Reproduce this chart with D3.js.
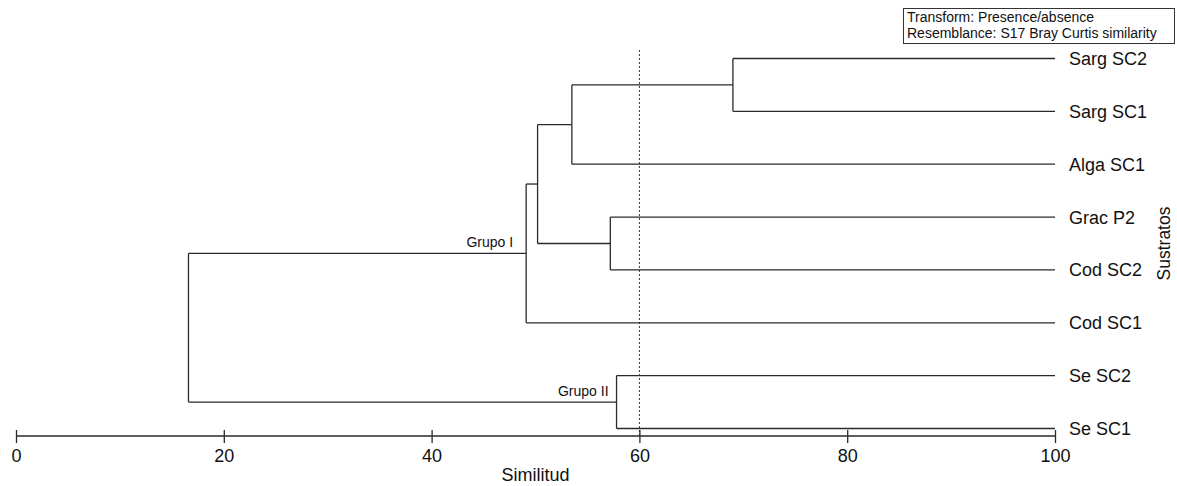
<!DOCTYPE html>
<html>
<head>
<meta charset="utf-8">
<script src="https://cdn.jsdelivr.net/npm/d3@7"></script>
<style>
  html, body { margin: 0; padding: 0; background: #fff; }
  svg { display: block; }
  text { font-family: "Liberation Sans", Arial, sans-serif; fill: #111; }
</style>
</head>
<body>
<svg id="chart" width="1177" height="486"></svg>
<script>
// ---- Data ----
const leaves = ["Sarg SC2", "Sarg SC1", "Alga SC1", "Grac P2", "Cod SC2", "Cod SC1", "Se SC2", "Se SC1"];
const mergeIds        = ["n1", "n2", "n3", "n4", "n5", "n6", "n7"];
const mergeLeft       = ["Sarg SC2", "n1", "Grac P2", "n2", "n4", "Se SC2", "n5"];
const mergeRight      = ["Sarg SC1", "Alga SC1", "Cod SC2", "n3", "Cod SC1", "Se SC1", "n6"];
const mergeSimilarity = [69.0, 53.5, 57.2, 50.2, 49.1, 57.8, 16.6];
const groupNodes  = ["n5", "n6"];
const groupLabels = ["Grupo I", "Grupo II"];
const xTicks = [0, 20, 40, 60, 80, 100];
const cutOff = 60;
const legendLines = ["Transform: Presence/absence", "Resemblance: S17 Bray Curtis similarity"];
const xTitle = "Similitud";
const yTitle = "Sustratos";

// ---- Layout ----
const svg = d3.select("#chart");
const x = d3.scaleLinear().domain([0, 100]).range([16, 1055]);
const y = d3.scalePoint().domain(leaves).range([58.5, 428.5]);
const axisY = 436;
const lineColor = "#2a2a2a";

// node positions
const nodes = {};
leaves.forEach(l => nodes[l] = { sim: 100, y: y(l) });
mergeIds.forEach((id, i) => {
  const a = nodes[mergeLeft[i]], b = nodes[mergeRight[i]];
  nodes[id] = { sim: mergeSimilarity[i], y: (a.y + b.y) / 2, a: mergeLeft[i], b: mergeRight[i] };
});

// cut-off dotted line
svg.append("line")
  .attr("x1", x(cutOff)).attr("x2", x(cutOff))
  .attr("y1", 50).attr("y2", axisY)
  .attr("stroke", "#333").attr("stroke-width", 1)
  .attr("stroke-dasharray", "2,2");

// dendrogram
const g = svg.append("g").attr("fill", "none").attr("stroke", lineColor).attr("stroke-width", 1.3);
mergeIds.forEach(id => {
  const n = nodes[id];
  const px = x(n.sim);
  [n.a, n.b].forEach(cid => {
    const c = nodes[cid];
    g.append("path").attr("d", `M${x(c.sim)},${c.y}H${px}`);
  });
  g.append("path").attr("d", `M${px},${nodes[n.a].y}V${nodes[n.b].y}`);
});

// leaf labels
svg.append("g").selectAll("text").data(leaves).join("text")
  .attr("x", x(100) + 14)
  .attr("y", d => y(d) + 6.5)
  .attr("font-size", 18)
  .text(d => d);

// group labels
const groupGap = [13, 8];
groupNodes.forEach((id, i) => {
  const n = nodes[id];
  svg.append("text")
    .attr("x", x(n.sim) - groupGap[i])
    .attr("y", n.y - 6)
    .attr("text-anchor", "end")
    .attr("font-size", 14)
    .attr("fill", "#222")
    .text(groupLabels[i]);
});

// x axis
const axis = d3.axisBottom(x).tickValues(xTicks).tickSize(0).tickPadding(0).tickFormat(d3.format("d"));
const ax = svg.append("g").attr("transform", `translate(0,${axisY})`).call(axis);
ax.select(".domain").attr("stroke", lineColor).attr("stroke-width", 1.3).attr("d", `M${x(0)},0H${x(100)}`);
ax.selectAll(".tick line").attr("stroke", lineColor).attr("stroke-width", 1.3).attr("y1", -6).attr("y2", 7);
ax.selectAll(".tick text")
  .attr("font-family", '"Liberation Sans", Arial, sans-serif')
  .attr("font-size", 18).attr("fill", "#111")
  .attr("dy", null).attr("y", 26);

// axis title
svg.append("text")
  .attr("x", (x(0) + x(100)) / 2)
  .attr("y", 481)
  .attr("text-anchor", "middle")
  .attr("font-size", 18)
  .text(xTitle);

// right title
svg.append("text")
  .attr("transform", `translate(1170,${(y(leaves[0]) + y(leaves[leaves.length - 1])) / 2}) rotate(-90)`)
  .attr("text-anchor", "middle")
  .attr("font-size", 17.5)
  .text(yTitle);

// legend box
svg.append("rect")
  .attr("x", 903.5).attr("y", 8.5).attr("width", 271).attr("height", 35)
  .attr("fill", "#fff").attr("stroke", "#333").attr("stroke-width", 1);
svg.append("g").selectAll("text").data(legendLines).join("text")
  .attr("x", 907)
  .attr("y", (d, i) => 22 + i * 16)
  .attr("font-size", 14)
  .attr("fill", "#222")
  .text(d => d);
</script>
</body>
</html>
